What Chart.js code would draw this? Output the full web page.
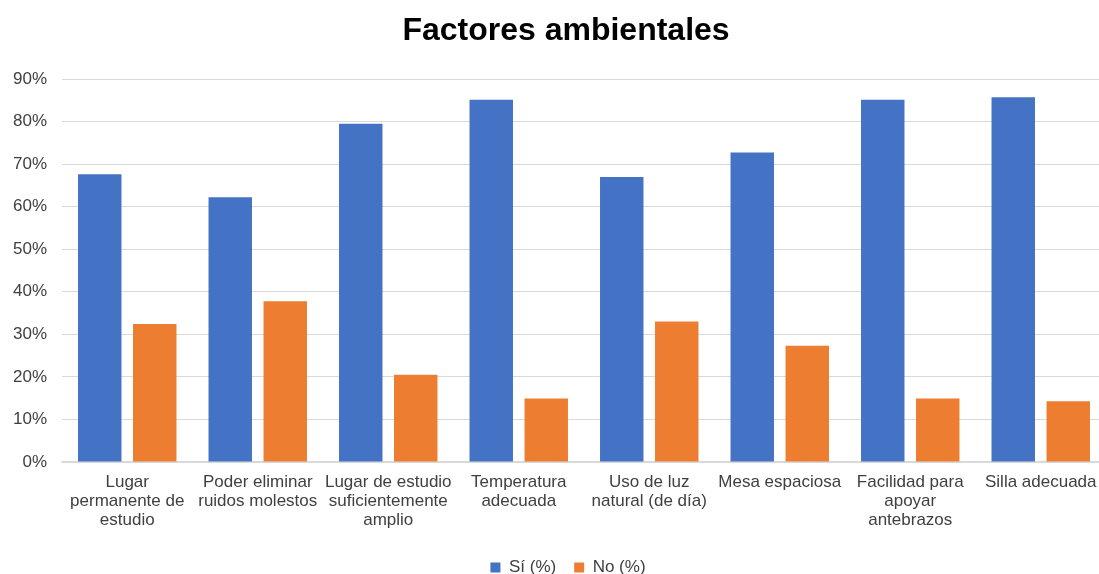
<!DOCTYPE html>
<html>
<head>
<meta charset="utf-8">
<script src="https://cdn.jsdelivr.net/npm/chart.js@4/dist/chart.umd.min.js"></script>
<style>
  html, body { margin: 0; padding: 0; background: #fff; overflow: hidden; }
  #clip { width: 1099px; height: 574px; overflow: hidden; }
  #wrap { width: 1132px; height: 586px; }
</style>
</head>
<body>
<div id="clip"><div id="wrap"><canvas id="chart"></canvas></div></div>
<script>
const categories = [
    ["Lugar", "permanente de", "estudio"],
    ["Poder eliminar", "ruidos molestos"],
    ["Lugar de estudio", "suficientemente", "amplio"],
    ["Temperatura", "adecuada"],
    ["Uso de luz", "natural (de día)"],
    ["Mesa espaciosa"],
    ["Facilidad para", "apoyar", "antebrazos"],
    ["Silla adecuada"]
];
const siValues = [67.6, 62.2, 79.5, 85.1, 67.0, 72.7, 85.1, 85.7];
const noValues = [32.4, 37.8, 20.5, 14.9, 33.0, 27.3, 14.9, 14.3];
const yTicks = [0, 10, 20, 30, 40, 50, 60, 70, 80, 90];

Chart.defaults.font.family = "'Liberation Sans', Arial, sans-serif";
Chart.defaults.color = "#404040";

const ctx = document.getElementById('chart').getContext('2d');

// centre the title and legend the way the reference does (a bit right of the page middle)
const shiftCenter = {
    id: 'shiftCenter',
    afterLayout(chart) {
        chart.legend.left += 30;
        chart.titleBlock.left += 26;
    }
};

new Chart(ctx, {
    type: 'bar',
    data: {
        labels: categories,
        datasets: [
            {
                label: 'Sí (%)',
                data: siValues,
                backgroundColor: '#4472c4',
                categoryPercentage: 0.843,
                barPercentage: 0.79
            },
            {
                label: 'No (%)',
                data: noValues,
                backgroundColor: '#ed7d31',
                categoryPercentage: 0.843,
                barPercentage: 0.79
            }
        ]
    },
    plugins: [shiftCenter],
    options: {
        responsive: true,
        maintainAspectRatio: false,
        animation: false,
        layout: { padding: { left: 0, right: 26, top: 12, bottom: 0 } },
        plugins: {
            title: {
                display: true,
                text: 'Factores ambientales',
                color: '#000',
                font: { size: 32, weight: 'bold' },
                padding: { top: 0, bottom: 28.6 }
            },
            legend: {
                position: 'bottom',
                labels: {
                    boxWidth: 10,
                    boxHeight: 10,
                    color: '#404040',
                    font: { size: 17 },
                    padding: 18
                }
            },
            tooltip: { enabled: false }
        },
        scales: {
            x: {
                grid: { display: false, drawTicks: false },
                border: { color: '#d9d9d9', width: 1.5 },
                ticks: {
                    color: '#404040',
                    font: { size: 17, lineHeight: 1.12 },
                    maxRotation: 0,
                    autoSkip: false,
                    padding: 11
                },
                afterFit: (scale) => { scale.height = 79; }
            },
            y: {
                min: 0,
                max: 90,
                afterBuildTicks: (scale) => {
                    scale.ticks = yTicks.map(v => ({ value: v }));
                },
                grid: { color: '#d9d9d9', drawTicks: false },
                border: { display: false },
                ticks: {
                    color: '#404040',
                    font: { size: 17 },
                    padding: 15,
                    callback: (v) => v + '%'
                },
                afterFit: (scale) => { scale.width = 62; }
            }
        }
    }
});
</script>
</body>
</html>
